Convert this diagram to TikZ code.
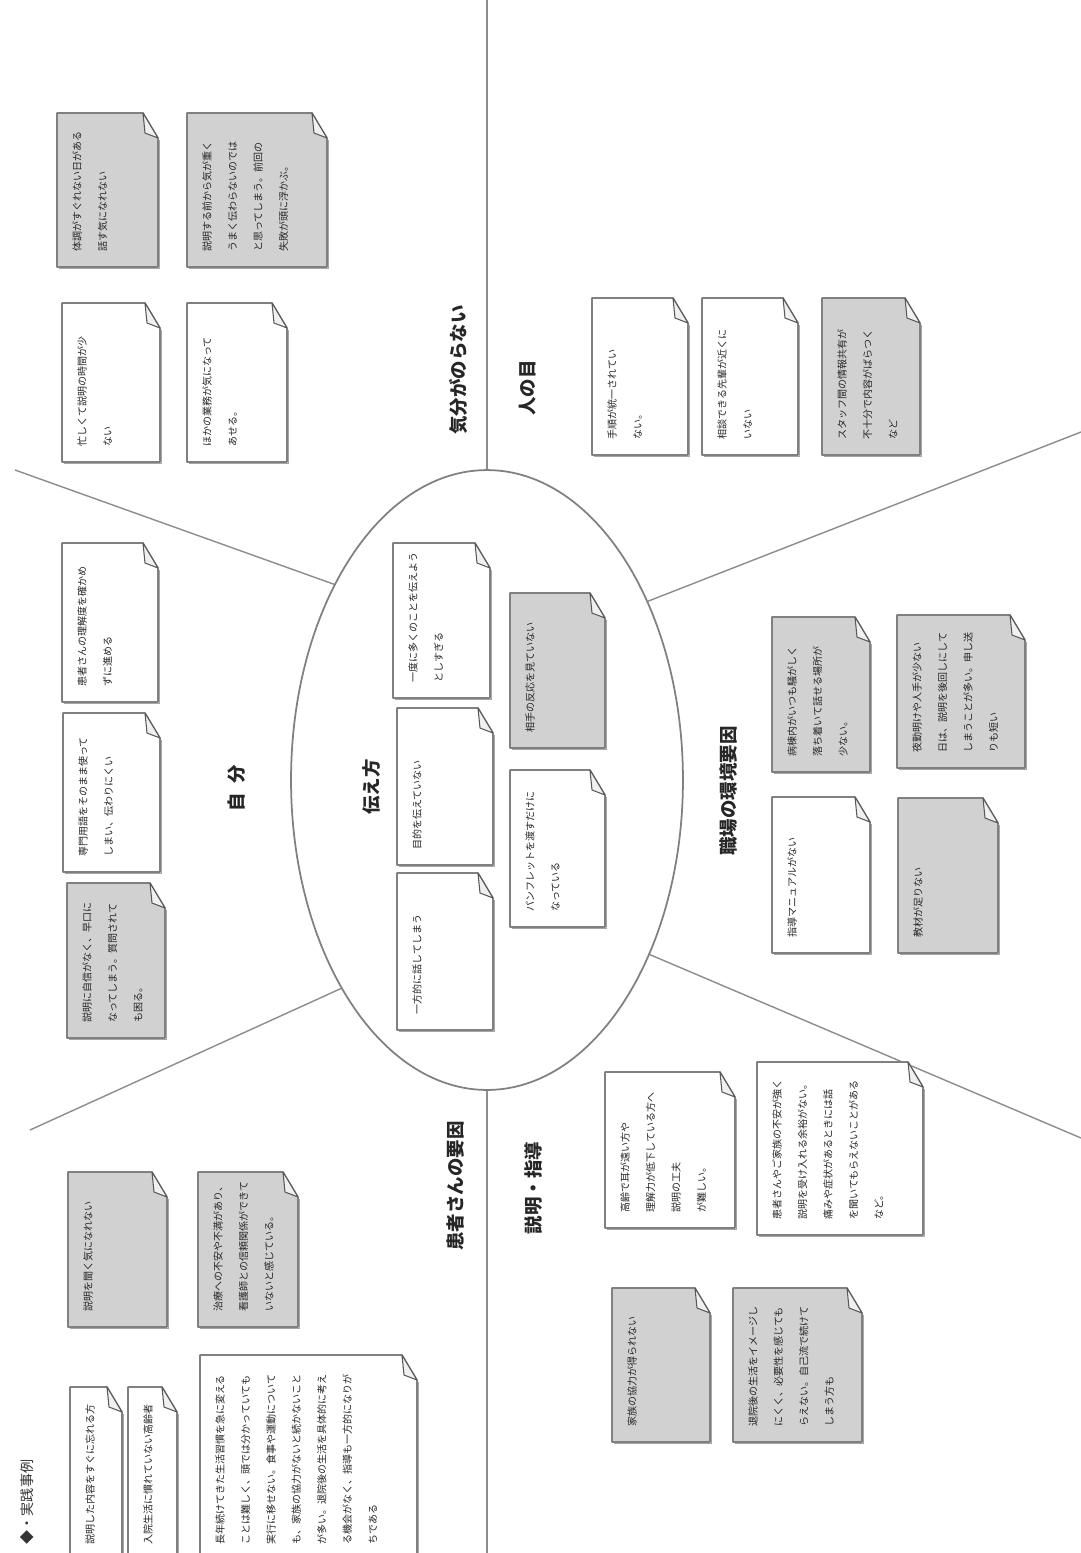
\documentclass[tikz,border=0pt]{standalone}
\usepackage{fontspec}
\setmainfont{Noto Sans CJK JP}
\usepackage{tikz}
\usetikzlibrary{shapes.geometric}

\definecolor{memogray}{gray}{0.82}

\begin{document}
\begin{tikzpicture}[x=0.02cm, y=-0.02cm,
    memo/.style={draw=black!50, line width=0.9pt, line join=round},
    memoshade/.style={draw=black!35, line width=0.8pt},
    fold/.style={draw=black!65, fill=black!6, line width=0.6pt, line join=round},
    memotext/.style={rotate=90, anchor=north west, inner sep=0pt, align=left, text=black!85, font=\fontsize{5.7}{14.5}\selectfont},
    branch/.style={rotate=90, inner sep=0pt, text=black!85, font=\fontsize{10.5}{12}\selectfont\bfseries},
    divider/.style={draw=black!45, line width=0.8pt}]
    \useasboundingbox (0,0) rectangle (1081,1553);
    \clip (0,0) rectangle (1081,1553);

    % centre and the dividing lines
    \node[ellipse, draw=black!50, line width=1pt, minimum width=7.84cm, minimum height=12.4cm] (core) at (487,780) {};
    \coordinate (topend) at (487,0);
    \coordinate (botend) at (487,1553);
    \coordinate (ulend) at (15,470);
    \coordinate (llend) at (30,1130);
    \coordinate (urend) at (1081,432);
    \coordinate (lrend) at (1081,1138);
    \draw[divider] (core.north) -- (topend);
    \draw[divider] (core.south) -- (botend);
    \draw[divider] (core.128.1) -- (ulend);
    \draw[divider] (core.235.4) -- (llend);
    \draw[divider] (core.48.6) -- (urend);
    \draw[divider] (core.313.8) -- (lrend);

    % branch titles
    \node[branch] (core label) at (372,787) {伝え方};
    \node[branch] (mood) at (458,370) {気分がのらない};
    \node[branch] (eyes) at (528,388) {人の目};
    \node[branch] (self) at (237,788) {自\hspace{0.5em}分};
    \node[branch] (ward) at (729,791) {職場の環境要因};
    \node[branch] (patient) at (456,1186) {患者さんの要因};
    \node[branch] (guide) at (534,1188) {説明・指導};
    \node[rotate=90, inner sep=0pt, text=black!80, font=\fontsize{8}{9}\selectfont] (folio) at (27,1502) {◆・実践事例};

    % cards: name/left/top/right/bottom/fill/text
    \foreach \n/\xa/\ya/\xb/\yb/\f/\t in {
        c1/57/113/158/267/memogray/{体調がすぐれない日がある\\話す気になれない},
        c2/187/113/327/267/memogray/{説明する前から気が重く\\うまく伝わらないのでは\\と思ってしまう。前回の\\失敗が頭に浮かぶ。},
        c3/62/303/160/462/white/{忙しくて説明の時間が少\\ない},
        c4/187/303/287/462/white/{ほかの業務が気になって\\あせる。},
        c5/592/298/688/455/white/{手順が統一されてい\\ない。},
        c6/702/298/798/455/white/{相談できる先輩が近くに\\いない},
        c7/822/298/920/455/memogray/{スタッフ間の情報共有が\\不十分で内容がばらつく\\など},
        c8/62/543/158/702/white/{患者さんの理解度を確かめ\\ずに進める},
        c9/63/713/160/872/white/{専門用語をそのまま使って\\しまい、伝わりにくい},
        c10/67/883/165/1038/memogray/{説明に自信がなく、早口に\\なってしまう。質問されて\\も困る。},
        c11/393/543/490/698/white/{一度に多くのことを伝えよう\\としすぎる},
        c12/397/708/493/865/white/{目的を伝えていない},
        c13/397/873/493/1030/white/{一方的に話してしまう},
        c14/510/593/605/748/memogray/{相手の反応を見ていない},
        c15/510/770/605/927/white/{パンフレットを渡すだけに\\なっている},
        c16/772/617/870/772/memogray/{病棟内がいつも騒がしく\\落ち着いて話せる場所が\\少ない。},
        c17/897/615/1025/768/memogray/{夜勤明けや人手が少ない\\日は、説明を後回しにして\\しまうことが多い。申し送\\りも短い},
        c18/772/797/870/953/white/{指導マニュアルがない},
        c19/898/798/998/953/memogray/{教材が足りない},
        c20/605/1072/735/1228/white/{高齢で耳が遠い方や\\理解力が低下している方へ\\説明の工夫\\が難しい。},
        c21/757/1062/923/1235/white/{患者さんやご家族の不安が強く\\説明を受け入れる余裕がない。\\痛みや症状があるときには話\\を聞いてもらえないことがある\\など。},
        c22/612/1288/710/1442/memogray/{家族の協力が得られない},
        c23/733/1288/862/1442/memogray/{退院後の生活をイメージし\\にくく、必要性を感じても\\らえない。自己流で続けて\\しまう方も},
        c24/68/1172/167/1327/memogray/{説明を聞く気になれない},
        c25/198/1172/298/1327/memogray/{治療への不安や不満があり、\\看護師との信頼関係ができて\\いないと感じている。},
        c26/70/1387/122/1560/white/{説明した内容をすぐに忘れる方},
        c27/128/1387/177/1560/white/{入院生活に慣れていない高齢者},
        c28/200/1355/417/1560/white/{長年続けてきた生活習慣を急に変える\\ことは難しく、頭では分かっていても\\実行に移せない。食事や運動について\\も、家族の協力がないと続かないこと\\が多い。退院後の生活を具体的に考え\\る機会がなく、指導も一方的になりが\\ちである}}
    {
        \draw[memoshade] (\xb+1.5,\ya+27) -- (\xb+1.5,\yb+1.5) -- (\xa+2,\yb+1.5);
        \filldraw[memo, fill=\f] (\xa,\ya) -- (\xb-15,\ya) -- (\xb,\ya+25) -- (\xb,\yb) -- (\xa,\yb) -- cycle;
        \filldraw[fold] (\xb-15,\ya) -- (\xb-13,\ya+20) -- (\xb,\ya+25) -- cycle;
        \node[memotext] (\n) at (\xa+15,\yb-15) {\t};
    }
\end{tikzpicture}
\end{document}
